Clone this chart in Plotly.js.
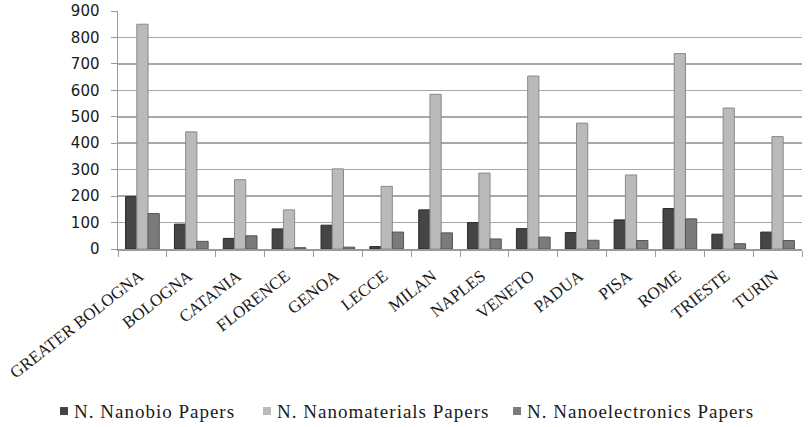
<!DOCTYPE html>
<html>
<head>
<meta charset="utf-8">
<script src="https://cdn.plot.ly/plotly-3.0.1.min.js"></script>
<style>
  html, body { margin: 0; padding: 0; background: #ffffff; }
  #chart { width: 810px; height: 427px; }
  /* key labels are slightly tracked */
  .annotation-text { letter-spacing: 1px; }
</style>
</head>
<body>
<div id="chart"></div>
<script>
// Cities / areas on the category axis
const cities = ['GREATER BOLOGNA', 'BOLOGNA', 'CATANIA', 'FLORENCE', 'GENOA', 'LECCE', 'MILAN',
  'NAPLES', 'VENETO', 'PADUA', 'PISA', 'ROME', 'TRIESTE', 'TURIN'];

// Paper counts per research area
const nanobioPapers = [198, 94, 40, 76, 90, 9, 148, 100, 77, 62, 110, 153, 56, 64];
const nanomaterialsPapers = [850, 443, 262, 148, 303, 237, 585, 287, 654, 476, 280, 739, 533, 425];
const nanoelectronicsPapers = [134, 29, 50, 5, 7, 64, 61, 38, 45, 33, 32, 114, 20, 32];

const seriesNames = ['N. Nanobio Papers', 'N. Nanomaterials Papers', 'N. Nanoelectronics Papers'];
const yTicks = [0, 100, 200, 300, 400, 500, 600, 700, 800, 900];

const fills = ['#454545', '#bababa', '#7b7b7b'];
const edges = ['#2a2a2a', '#8a8a8a', '#555555'];

const serif = '"Liberation Serif", "Times New Roman", serif';

// figure geometry
const W = 810, H = 427;
const M = { l: 118, r: 8, t: 11, b: 178 };
const plotW = W - M.l - M.r, plotH = H - M.t - M.b;
const toPaperX = px => (px - M.l) / plotW;
const toPaperY = py => (H - M.b - py) / plotH;

const traces = [nanobioPapers, nanomaterialsPapers, nanoelectronicsPapers].map((vals, i) => ({
  type: 'bar',
  name: seriesNames[i],
  x: cities,
  y: vals,
  marker: { color: fills[i], line: { color: edges[i], width: 1 } },
  hoverinfo: 'x+y+name',
  showlegend: false
}));

// key below the chart: small square swatch followed by the series name
const keyY = 411;
const keyStarts = [60, 263, 513];
const keyShapes = keyStarts.map((x0, i) => ({
  type: 'rect', xref: 'paper', yref: 'paper',
  x0: toPaperX(x0), x1: toPaperX(x0 + 8),
  y0: toPaperY(keyY + 4), y1: toPaperY(keyY - 4),
  fillcolor: fills[i], line: { width: 0 }
}));
const keyLabels = keyStarts.map((x0, i) => ({
  text: seriesNames[i], xref: 'paper', yref: 'paper',
  x: toPaperX(x0 + 12), y: toPaperY(keyY),
  xanchor: 'left', yanchor: 'middle', showarrow: false,
  font: { family: serif, size: 19, color: '#1a1a1a' }
}));

const layout = {
  width: W,
  height: H,
  font: { family: serif, color: '#1a1a1a' },
  margin: M,
  paper_bgcolor: '#ffffff',
  plot_bgcolor: '#ffffff',
  barmode: 'group',
  bargap: 0.31,
  bargroupgap: 0,
  showlegend: false,
  shapes: keyShapes,
  annotations: keyLabels,
  xaxis: {
    type: 'category',
    tickangle: -38,
    tickfont: { family: serif, size: 17, color: '#1a1a1a' },
    showline: true, linecolor: '#9a9a9a', linewidth: 1.5,
    ticks: 'outside', tickson: 'boundaries', ticklen: 6, tickcolor: '#9a9a9a',
    showgrid: false,
    ticklabelstandoff: 9,
    ticklabelshift: -3
  },
  yaxis: {
    range: [0, 900],
    tickvals: yTicks,
    ticktext: yTicks.map(String),
    tickfont: { family: '"DejaVu Sans", Verdana, sans-serif', size: 15, color: '#1a1a1a' },
    showline: true, linecolor: '#9a9a9a', linewidth: 1.5,
    ticks: 'outside', ticklen: 6, tickcolor: '#9a9a9a',
    showgrid: true, gridcolor: '#a8a8a8', gridwidth: 1.5,
    zeroline: false,
    ticklabelstandoff: 8
  }
};

Plotly.newPlot('chart', traces, layout, { displayModeBar: false, staticPlot: true });
</script>
</body>
</html>
